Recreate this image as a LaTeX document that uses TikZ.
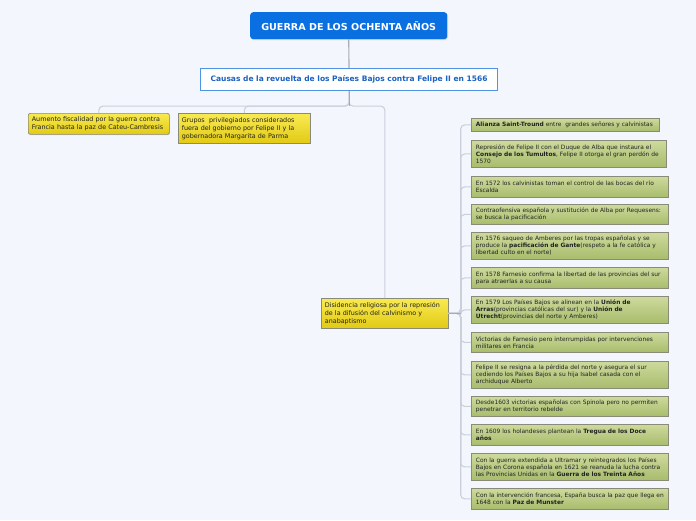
\documentclass[tikz,border=0pt]{standalone}
\usepackage{fontspec}
\setmainfont{DejaVu Sans}
\usetikzlibrary{shadows}
\definecolor{bg}{HTML}{F3F6FD}
\definecolor{titleblue}{HTML}{0A70E2}
\definecolor{causeborder}{HTML}{4F94E4}
\definecolor{causetext}{HTML}{1A62C0}
\definecolor{yeltop}{HTML}{F8EA52}
\definecolor{yelbot}{HTML}{E2CA14}
\definecolor{grntop}{HTML}{CDDA9C}
\definecolor{grnbot}{HTML}{A8BC6C}
\definecolor{boxborder}{HTML}{8A8A78}
\definecolor{conncol}{HTML}{CBCFDA}
\definecolor{conndark}{HTML}{A8ABB4}
\definecolor{bodytext}{HTML}{222222}
\begin{document}
\begin{tikzpicture}[x=1pt,y=-1pt,
  conn/.style={draw=conncol,line width=1.1pt,rounded corners=4pt},
  conndk/.style={draw=conndark,line width=1.1pt},
  shad/.style={drop shadow={shadow xshift=0.8pt,shadow yshift=-0.8pt,opacity=0.25}},
  titlebox/.style={fill=titleblue,rounded corners=3pt,text=white,font=\fontsize{9.6}{11}\selectfont\bfseries,
    minimum width=197pt,minimum height=27pt,inner sep=0pt,anchor=north west,shad},
  causebox/.style={fill=white,draw=causeborder,line width=1.1pt,text=causetext,font=\fontsize{7.5}{9}\selectfont\bfseries,
    minimum width=297pt,minimum height=22pt,inner sep=0pt,anchor=north west,shad},
  yelbox/.style={top color=yeltop,bottom color=yelbot,draw=boxborder,line width=0.7pt,rounded corners=2pt,
    text=bodytext,font=\fontsize{6.4}{8}\selectfont,align=left,inner xsep=3.5pt,inner ysep=0pt,anchor=north west,shad},
  grnbox/.style={top color=grntop,bottom color=grnbot,draw=boxborder,line width=0.8pt,
    text=bodytext,font=\fontsize{5.9}{7}\selectfont,align=left,inner xsep=4.5pt,inner ysep=0pt,anchor=north west,shad,
    text width=188pt,minimum width=197pt}
]
\fill[bg] (0,0) rectangle (696,520);
\useasboundingbox (0,0) rectangle (696,520);

% main nodes
\node[titlebox] (t) at (250,12) {GUERRA DE LOS OCHENTA AÑOS};
\node[causebox] (c) at (200,68) {Causas de la revuelta de los Países Bajos contra Felipe II en 1566};

\node[yelbox,text width=134pt,minimum height=21pt] (a1) at (28,113)
  {Aumento fiscalidad por la guerra contra\\Francia hasta la paz de Cateu-Cambresis};
\node[yelbox,text width=125pt,minimum height=30pt,rounded corners=0pt] (a2) at (178,113)
  {Grupos\ \ privilegiados considerados\\fuera del gobierno por Felipe II y la\\gobernadora Margarita de Parma};
\node[yelbox,text width=120pt,minimum height=30pt,rounded corners=0pt] (a3) at (321,298)
  {Disidencia religiosa por la represión\\de la difusión del calvinismo y\\anabaptismo};

% green nodes
\node[grnbox,text width=179pt,minimum width=188pt,minimum height=13pt] (g1) at (471,118)
  {\textbf{Alianza Saint-Tround} entre\ \ grandes señores y calvinistas};
\node[grnbox,text width=186pt,minimum width=195pt,minimum height=27pt] (g2) at (471,140)
  {Represión de Felipe II con el Duque de Alba que instaura el\\\textbf{Consejo de los Tumultos}, Felipe II otorga el gran perdón de\\1570};
\node[grnbox,minimum height=21pt] (g3) at (471,176)
  {En 1572 los calvinistas toman el control de las bocas del río\\Escalda};
\node[grnbox,minimum height=20pt] (g4) at (471,204)
  {Contraofensiva española y sustitución de Alba por Requesens:\\se busca la pacificación};
\node[grnbox,minimum height=27pt] (g5) at (471,232)
  {En 1576 saqueo de Amberes por las tropas españolas y se\\produce la \textbf{pacificación de Gante}(respeto a la fe católica y\\libertad culto en el norte)};
\node[grnbox,minimum height=21pt] (g6) at (471,267)
  {En 1578 Farnesio confirma la libertad de las provincias del sur\\para atraerlas a su causa};
\node[grnbox,minimum height=27pt] (g7) at (471,296)
  {En 1579 Los Países Bajos se alinean en la \textbf{Unión de}\\\textbf{Arras}(provincias católicas del sur) y la \textbf{Unión de}\\\textbf{Utrecht}(provincias del norte y Amberes)};
\node[grnbox,minimum height=20pt] (g8) at (471,332)
  {Victorias de Farnesio pero interrumpidas por intervenciones\\militares en Francia};
\node[grnbox,minimum height=27pt] (g9) at (471,361)
  {Felipe II se resigna a la pérdida del norte y asegura el sur\\cediendo los Países Bajos a su hija Isabel casada con el\\archiduque Alberto};
\node[grnbox,minimum height=20pt] (g10) at (471,396)
  {Desde1603 victorias españolas con Spinola pero no permiten\\penetrar en territorio rebelde};
\node[grnbox,minimum height=21pt] (g11) at (471,424)
  {En 1609 los holandeses plantean la \textbf{Tregua de los Doce}\\\textbf{años}};
\node[grnbox,minimum height=27pt] (g12) at (471,453)
  {Con la guerra extendida a Ultramar y reintegrados los Países\\Bajos en Corona española en 1621 se reanuda la lucha contra\\las Provincias Unidas en la \textbf{Guerra de los Treinta Años}};
\node[grnbox,minimum height=21pt] (g13) at (471,488)
  {Con la intervención francesa, España busca la paz que llega en\\1648 con la \textbf{Paz de Munster}};

% connectors
\draw[conndk] (t.south) -- (c.north);
\draw[conn] (c.south) -- ++(0,15) -| (a1.north);
\draw[conn] (c.south) -- ++(0,15) -| (a2.north);
\draw[conn] (c.south) -- ++(0,15) -| (a3.north);
\draw[conndk] (c.south) -- ++(0,15);
\foreach \g in {g1,g2,g3,g4,g5,g6,g7,g8,g9,g10,g11,g12,g13}{
  \draw[conn] (a3.east) -- ++(12,0) |- (\g.west);
}
\draw[conndk] (a3.east) -- ++(12,0);
\end{tikzpicture}
\end{document}
